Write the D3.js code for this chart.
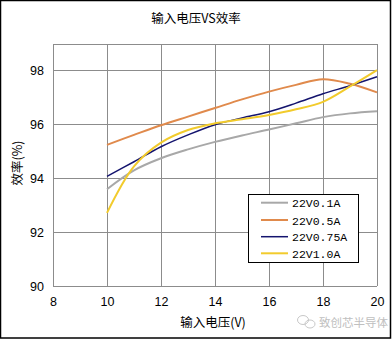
<!DOCTYPE html>
<html><head><meta charset="utf-8">
<script src="https://cdn.jsdelivr.net/npm/d3@7"></script>
<style>body{margin:0;background:#fff}svg{display:block}</style>
</head><body>
<script>
const voltages = [10,11,12,13,14,15,16,17,18,19,20];
const seriesNames = ["22V0.1A","22V0.5A","22V0.75A","22V1.0A"];
const s01 = [93.6,94.3,94.75,95.08,95.36,95.6,95.82,96.05,96.28,96.42,96.5];
const s05 = [95.25,95.62,95.98,96.3,96.62,96.94,97.23,97.48,97.69,97.52,97.2];
const s075 = [94.08,94.62,95.18,95.62,96.0,96.25,96.48,96.8,97.15,97.45,97.78];
const s10 = [92.72,94.45,95.33,95.8,96.05,96.2,96.36,96.57,96.85,97.42,98.03];
const colors = ["#a8a8a8","#e08a4c","#14146e","#f2cb2c"];
const xTicks = [8,10,12,14,16,18,20];
const yTicks = [90,92,94,96,98];
const title = "输入电压VS效率";
const xTitle = "输入电压(V)";
const yTitle = "效率(%)";
const watermark = "致创芯半导体";

const W=392,H=340;
const svg=d3.select("body").append("svg").attr("width",W).attr("height",H);
svg.append("rect").attr("x",0.5).attr("y",0.5).attr("width",390).attr("height",337.5).attr("fill","#fff").attr("stroke","#000").attr("stroke-width",1.5);

const L=53,R=377,T=44,B=286;
const x=d3.scaleLinear().domain([8,20]).range([L,R]);
const y=d3.scaleLinear().domain([90,99]).range([B,T]);

const g=svg.append("g");
g.selectAll(".vg").data(xTicks).join("line").attr("x1",d=>x(d)).attr("x2",d=>x(d)).attr("y1",T).attr("y2",B).attr("stroke","#8c8c8c").attr("stroke-width",1).attr("shape-rendering","crispEdges");
g.selectAll(".hg").data(yTicks.concat([99])).join("line").attr("x1",L).attr("x2",R).attr("y1",d=>y(d)).attr("y2",d=>y(d)).attr("stroke","#8c8c8c").attr("stroke-width",1).attr("shape-rendering","crispEdges");

const xa=d3.axisBottom(x).tickValues(xTicks).tickSize(0).tickPadding(0);
svg.append("g").attr("transform",`translate(0,${B+11})`).call(xa)
  .call(s=>s.select(".domain").remove())
  .selectAll("text").attr("font-family","'Liberation Sans',Arial,sans-serif").attr("font-size",12.5).attr("fill","#000");
const ya=d3.axisLeft(y).tickValues(yTicks).tickSize(0).tickPadding(0);
svg.append("g").attr("transform",`translate(${L-9},0)`).call(ya)
  .call(s=>s.select(".domain").remove())
  .selectAll("text").attr("font-family","'Liberation Sans',Arial,sans-serif").attr("font-size",12.5).attr("fill","#000");

const series=[s01,s05,s075,s10];
const line=d3.line().x((d,i)=>x(voltages[i])).y(d=>y(d)).curve(d3.curveCatmullRom.alpha(0.5));
svg.append("g").selectAll("path").data(series).join("path")
  .attr("d",d=>line(d)).attr("fill","none")
  .attr("stroke",(d,i)=>colors[i]).attr("stroke-width",(d,i)=>i===2?1.5:2);

svg.append("text").attr("x",196).attr("y",23).attr("text-anchor","middle")
  .attr("font-family","'Noto Sans CJK SC',sans-serif").attr("font-size",12.5).text(title);
svg.append("text").attr("x",213).attr("y",327).attr("text-anchor","middle")
  .attr("font-family","'Noto Sans CJK SC',sans-serif").attr("font-size",12.5).text(xTitle);
svg.append("text").attr("transform","translate(22,163) rotate(-90)").attr("text-anchor","middle")
  .attr("font-family","'Noto Sans CJK SC',sans-serif").attr("font-size",12.5).text(yTitle);

const lg=svg.append("g");
lg.append("rect").attr("x",248.5).attr("y",194.5).attr("width",110).attr("height",68).attr("fill","#fff").attr("stroke","#000").attr("stroke-width",1);
const rows=[202.7,220,236.7,253.3];
seriesNames.forEach((n,i)=>{
  lg.append("line").attr("x1",261).attr("x2",288).attr("y1",rows[i]).attr("y2",rows[i]).attr("stroke",colors[i]).attr("stroke-width",i===2?1.5:2);
  lg.append("text").attr("x",292).attr("y",rows[i]+4.5).attr("font-family","'Liberation Mono',monospace").attr("font-size",11.5).text(n);
});

const wm=svg.append("g").attr("fill","none").attr("stroke","#c8c8c8").attr("stroke-width",1);
wm.append("ellipse").attr("cx",303).attr("cy",320).attr("rx",5.5).attr("ry",4.5);
wm.append("ellipse").attr("cx",310).attr("cy",324).attr("rx",5).attr("ry",4);
svg.append("text").attr("x",319).attr("y",327).attr("font-family","'Noto Sans CJK SC',sans-serif").attr("font-size",11.5).attr("fill","#c0c0c0").text(watermark);
</script>
</body></html>
